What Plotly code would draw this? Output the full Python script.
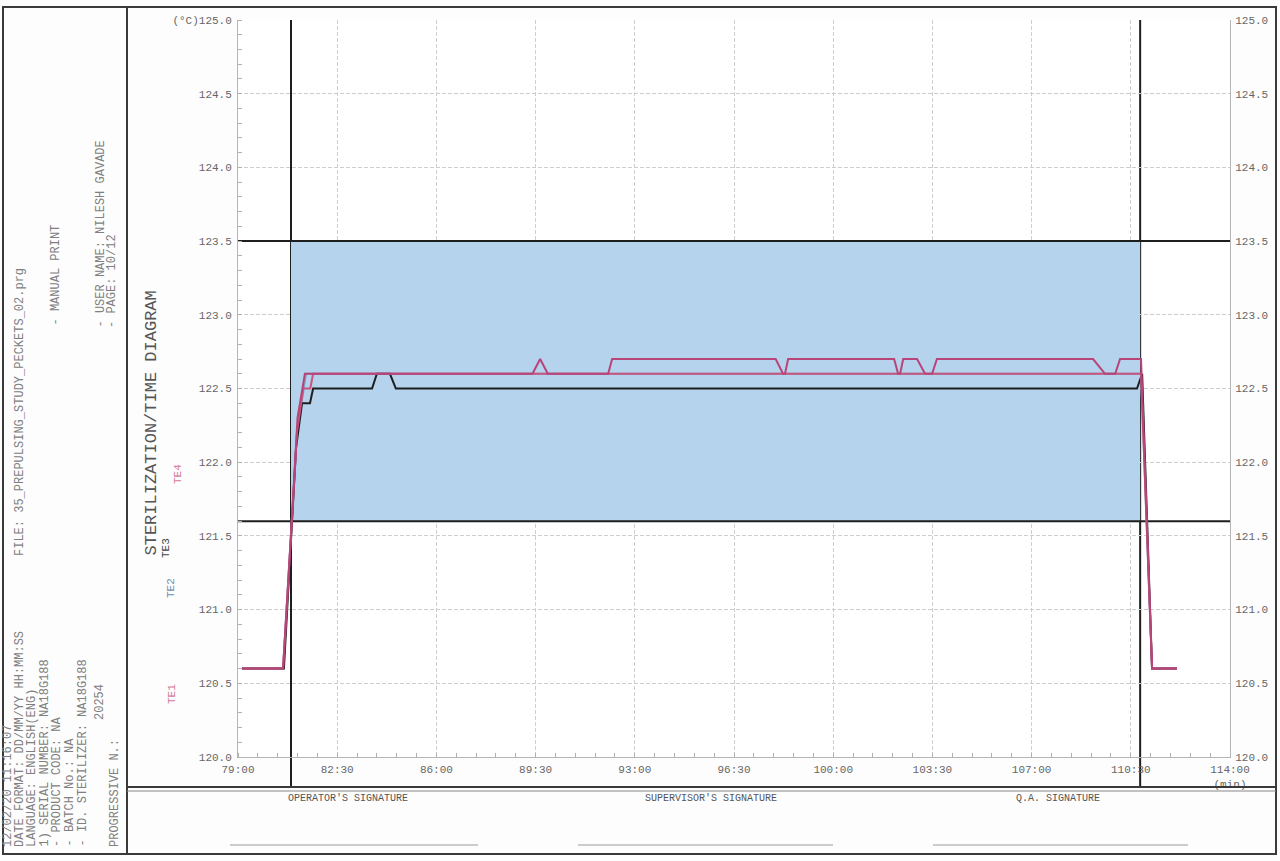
import plotly.graph_objects as go

# ---------------- data ----------------
x_tickvals = [79, 82.5, 86, 89.5, 93, 96.5, 100, 103.5, 107, 110.5, 114]
x_ticktext = ["79:00", "82:30", "86:00", "89:30", "93:00", "96:30", "100:00",
              "103:30", "107:00", "110:30", "114:00<br>(min)"]
y_tickvals = [120.0, 120.5, 121.0, 121.5, 122.0, 122.5, 123.0, 123.5, 124.0, 124.5, 125.0]
y_ticktext_left = ["120.0", "120.5", "121.0", "121.5", "122.0", "122.5", "123.0",
                   "123.5", "124.0", "124.5", "(°C)125.0"]
y_ticktext_right = ["120.0", "120.5", "121.0", "121.5", "122.0", "122.5", "123.0",
                    "123.5", "124.0", "124.5", "125.0"]

limit_low = 121.6
limit_high = 123.5
phase_start = 80.87
phase_end = 110.83

te2_t = [79.14, 80.59, 81.08, 81.4, 110.86, 111.25, 112.13]
te2_y = [120.6, 120.6, 122.2, 122.6, 122.6, 120.6, 120.6]

te1_t = [79.14, 80.59, 81.08, 81.3, 81.55, 81.65, 110.86, 111.25, 112.13]
te1_y = [120.6, 120.6, 122.2, 122.5, 122.5, 122.6, 122.6, 120.6, 120.6]

te3_t = [79.14, 80.62, 81.05, 81.26, 81.54, 81.65, 83.73, 83.90, 84.36, 84.57,
         110.72, 110.90, 111.25, 112.13]
te3_y = [120.6, 120.6, 122.1, 122.4, 122.4, 122.5, 122.5, 122.6, 122.6, 122.5,
         122.5, 122.6, 120.6, 120.6]

te4_t = [79.14, 80.59, 80.9, 81.1, 81.36, 89.39, 89.66, 89.93, 92.06, 92.20,
         97.97, 98.23, 98.30, 98.41, 102.15, 102.29, 102.36, 102.47, 102.96, 103.24,
         103.49, 103.66, 109.17, 109.59, 109.95, 110.12, 110.86, 111.25, 112.13]
te4_y = [120.6, 120.6, 121.6, 122.3, 122.6, 122.6, 122.7, 122.6, 122.6, 122.7,
         122.7, 122.6, 122.6, 122.7, 122.7, 122.6, 122.6, 122.7, 122.7, 122.6,
         122.6, 122.7, 122.7, 122.6, 122.6, 122.7, 122.7, 120.6, 120.6]

left_bottom_lines = [
    "12/02/20 11:16:07",
    "DATE FORMAT: DD/MM/YY HH:MM:SS",
    "LANGUAGE: ENGLISH(ENG)",
    "1) SERIAL NUMBER: NA18G188",
    "- PRODUCT CODE: NA",
    "- BATCH No.: NA",
    "- ID. STERILIZER: NA18G188",
]
left_top_lines = ["- MANUAL PRINT", "- USER NAME: NILESH GAVADE", "- PAGE: 10/12"]
file_line = "FILE: 35_PREPULSING_STUDY_PECKETS_02.prg"
progressive_label = "PROGRESSIVE N.:"
progressive_value = "20254"
signatures = ["OPERATOR'S SIGNATURE", "SUPERVISOR'S SIGNATURE", "Q.A. SIGNATURE"]
series_names = ["TE1", "TE2", "TE3", "TE4"]

# ---------------- layout geometry (pixels) ----------------
W, H = 1280, 861
L, R, T, B = 238, 1230, 20, 757
MONO = "Liberation Mono"


def px(xp):
    return (xp - L) / (R - L)


def py(yp):
    return (B - yp) / (B - T)


PINK = "#b8457a"
PINK2 = "#c9557f"
BLACK = "#1e1e1e"
BLUE = "#7aa6cc"

fig = go.Figure()
fig.add_trace(go.Scatter(x=te2_t, y=te2_y, mode="lines", name="TE2",
                         line=dict(color=BLUE, width=2)))
fig.add_trace(go.Scatter(x=te3_t, y=te3_y, mode="lines", name="TE3",
                         line=dict(color=BLACK, width=2)))
fig.add_trace(go.Scatter(x=te1_t, y=te1_y, mode="lines", name="TE1",
                         line=dict(color=PINK2, width=2)))
fig.add_trace(go.Scatter(x=te4_t, y=te4_y, mode="lines", name="TE4",
                         line=dict(color=PINK, width=2), yaxis="y2"))

shapes = []
shapes.append(dict(type="rect", xref="x", yref="y", x0=phase_start, x1=phase_end,
                   y0=limit_low, y1=limit_high, fillcolor="#b5d3ec",
                   line=dict(width=0), layer="between"))
for lv in (limit_low, limit_high):
    shapes.append(dict(type="line", xref="x", yref="y", x0=79, x1=114, y0=lv, y1=lv,
                       line=dict(color=BLACK, width=2), layer="between"))
for xv in (phase_start, phase_end):
    shapes.append(dict(type="line", xref="x", yref="paper", x0=xv, x1=xv,
                       y0=py(786), y1=1.0, line=dict(color=BLACK, width=2),
                       layer="between"))
FR = "#3a3a3a"
shapes.append(dict(type="rect", xref="paper", yref="paper", x0=px(3), x1=px(1276),
                   y0=py(854), y1=py(7), line=dict(color=FR, width=2)))
shapes.append(dict(type="line", xref="paper", yref="paper", x0=px(127), x1=px(127),
                   y0=py(854), y1=py(7), line=dict(color=FR, width=2)))
shapes.append(dict(type="line", xref="paper", yref="paper", x0=px(127), x1=px(1276),
                   y0=py(787), y1=py(787), line=dict(color=FR, width=2)))
shapes.append(dict(type="line", xref="paper", yref="paper", x0=px(127), x1=px(1276),
                   y0=py(791), y1=py(791), line=dict(color="#888", width=1)))
for a, b in ((230, 478), (578, 833), (933, 1188)):
    shapes.append(dict(type="line", xref="paper", yref="paper", x0=px(a), x1=px(b),
                       y0=py(845), y1=py(845), line=dict(color="#9a9a9a", width=1)))

ann = []
TXT = "#808080"


def vtext(x, ybottom, text, size=12, color=TXT):
    ann.append(dict(xref="paper", yref="paper", x=px(x), y=py(ybottom), text=text,
                    textangle=-90, showarrow=False, xanchor="center", yanchor="bottom",
                    font=dict(family=MONO, size=size, color=color)))


for xpos, t in zip([8, 20, 32, 44, 57, 69, 82], left_bottom_lines):
    vtext(xpos, 849, t)
vtext(100, 722, progressive_value)
vtext(115, 849, progressive_label)
vtext(20, 558, file_line)
vtext(55, 328, left_top_lines[0])
vtext(100, 330, left_top_lines[1])
vtext(112, 330, left_top_lines[2])

vtext(151, 558, "STERILIZATION/TIME DIAGRAM", size=17, color="#555")
vtext(166, 560, series_names[2], size=11, color="#444")
vtext(178, 486, series_names[3], size=11, color="#d27a98")
vtext(171, 600, series_names[1], size=11, color="#6f8fae")
vtext(172, 706, series_names[0], size=11, color="#d27a98")

for xc, s in zip([348, 711, 1058], signatures):
    ann.append(dict(xref="paper", yref="paper", x=px(xc), y=py(798), text=s,
                    showarrow=False, xanchor="center", yanchor="middle",
                    font=dict(family=MONO, size=10, color="#555")))

grid = dict(showgrid=True, gridcolor="#cdcdcd", gridwidth=1, griddash="4px,2px")
tickfont = dict(family=MONO, size=11, color="#666")

fig.update_layout(
    width=W, height=H,
    margin=dict(l=L, r=W - R, t=T, b=H - B, pad=0),
    paper_bgcolor="#fdfdfd", plot_bgcolor="#ffffff",
    showlegend=False,
    shapes=shapes, annotations=ann,
    xaxis=dict(range=[79, 114], tickmode="array", tickvals=x_tickvals,
               ticktext=x_ticktext, tickfont=tickfont, ticks="", ticklabelstandoff=2,
               showline=True, linecolor="#b5b5b5", linewidth=1, zeroline=False,
               minor=dict(ticks="inside", ticklen=4, tickcolor="#b0b0b0",
                          tick0=79, dtick=0.7, showgrid=False),
               **grid),
    yaxis=dict(range=[120, 125], tickmode="array", tickvals=y_tickvals,
               ticktext=y_ticktext_left, tickfont=tickfont, ticks="",
               ticklabelstandoff=3, showline=True, linecolor="#b5b5b5", linewidth=1,
               zeroline=False,
               minor=dict(ticks="inside", ticklen=4, tickcolor="#b0b0b0",
                          tick0=120, dtick=0.1, showgrid=False),
               **grid),
    yaxis2=dict(range=[120, 125], overlaying="y", side="right", tickmode="array",
                tickvals=y_tickvals, ticktext=y_ticktext_right, tickfont=tickfont,
                ticks="", ticklabelstandoff=2, showgrid=False, zeroline=False,
                showline=True, linecolor="#b5b5b5", linewidth=1),
)

fig.write_html("out.html", config={"displayModeBar": False},
               post_script="document.body.style.margin='0';document.body.style.overflow='hidden';")
